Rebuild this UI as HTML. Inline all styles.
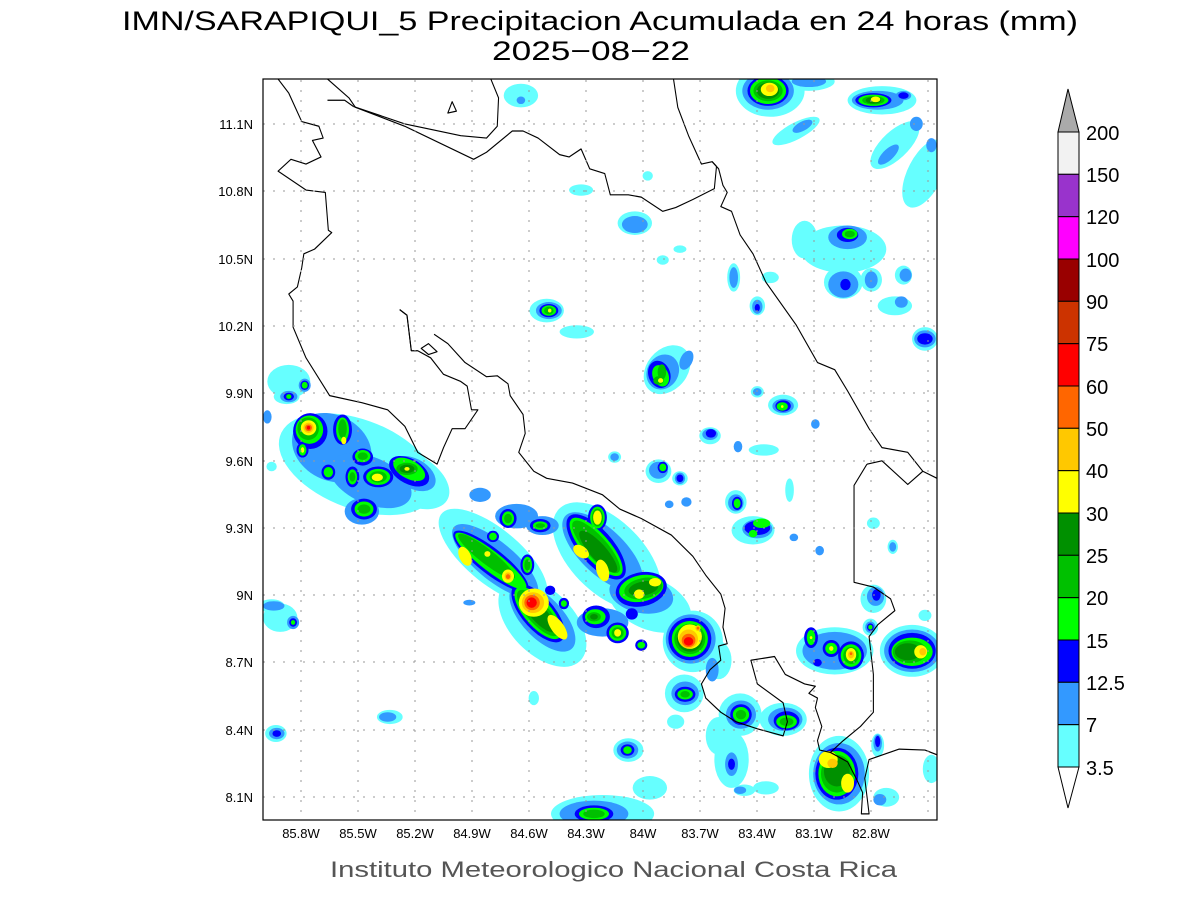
<!DOCTYPE html>
<html><head><meta charset="utf-8"><style>
body{margin:0;background:#fff;}
svg{display:block;font-family:"Liberation Sans",sans-serif;}
</style></head><body>
<svg width="1200" height="900" viewBox="0 0 1200 900" xmlns="http://www.w3.org/2000/svg">
<rect width="1200" height="900" fill="#fff"/>
<text x="122" y="30" font-size="27" textLength="956" lengthAdjust="spacingAndGlyphs" fill="#000">IMN/SARAPIQUI_5 Precipitacion Acumulada en 24 horas (mm)</text>
<text x="492" y="60" font-size="27" textLength="198" lengthAdjust="spacingAndGlyphs" fill="#000">2025−08−22</text>

<svg x="263" y="79" width="674" height="741" viewBox="0 0 1568 1568" preserveAspectRatio="none">
<defs><clipPath id="c"><rect width="1568" height="1568"/></clipPath></defs>
<g clip-path="url(#c)">
<g fill="#66ffff">
<ellipse cx="1180" cy="25" rx="80" ry="55"/><ellipse cx="1270" cy="5" rx="60" ry="20"/>
<ellipse cx="1440" cy="45" rx="80" ry="30"/>
<ellipse cx="1240" cy="110" rx="60" ry="18" transform="rotate(-25 1240 110)"/>
<ellipse cx="1470" cy="140" rx="70" ry="30" transform="rotate(-40 1470 140)"/>
<ellipse cx="1540" cy="200" rx="40" ry="80" transform="rotate(30 1540 200)"/>
<ellipse cx="600" cy="35" rx="40" ry="25"/>
<ellipse cx="740" cy="235" rx="28" ry="12"/><ellipse cx="895" cy="205" rx="12" ry="10"/>
<ellipse cx="865" cy="305" rx="40" ry="25"/>
<ellipse cx="1350" cy="360" rx="100" ry="50"/><ellipse cx="1260" cy="340" rx="30" ry="40"/>
<ellipse cx="1350" cy="430" rx="45" ry="35"/><ellipse cx="1415" cy="425" rx="25" ry="25"/>
<ellipse cx="1490" cy="415" rx="20" ry="20"/><ellipse cx="1470" cy="480" rx="40" ry="20"/>
<ellipse cx="1095" cy="420" rx="15" ry="30"/><ellipse cx="1180" cy="420" rx="20" ry="12"/>
<ellipse cx="1150" cy="480" rx="18" ry="20"/><ellipse cx="1540" cy="550" rx="30" ry="25"/>
<ellipse cx="660" cy="490" rx="40" ry="25"/><ellipse cx="730" cy="535" rx="40" ry="14"/>
<ellipse cx="930" cy="383" rx="14" ry="10"/><ellipse cx="970" cy="360" rx="15" ry="8"/>
<ellipse cx="940" cy="615" rx="60" ry="45" transform="rotate(-40 940 615)"/>
<ellipse cx="1150" cy="662" rx="15" ry="12"/><ellipse cx="1210" cy="690" rx="35" ry="22"/>
<ellipse cx="1040" cy="755" rx="25" ry="18"/><ellipse cx="1165" cy="785" rx="35" ry="12"/>
<ellipse cx="920" cy="830" rx="30" ry="25"/><ellipse cx="970" cy="845" rx="18" ry="15"/>
<ellipse cx="1100" cy="895" rx="25" ry="25"/><ellipse cx="1140" cy="955" rx="50" ry="30"/>
<ellipse cx="818" cy="800" rx="15" ry="12"/><ellipse cx="1225" cy="870" rx="10" ry="25"/>
<ellipse cx="60" cy="640" rx="50" ry="35"/><ellipse cx="55" cy="672" rx="30" ry="16"/>
<ellipse cx="220" cy="815" rx="190" ry="95" transform="rotate(18 220 815)"/>
<ellipse cx="340" cy="845" rx="100" ry="55" transform="rotate(25 340 845)"/>
<ellipse cx="535" cy="1010" rx="150" ry="60" transform="rotate(36 535 1010)"/>
<ellipse cx="650" cy="1150" rx="120" ry="70" transform="rotate(40 650 1150)"/>
<ellipse cx="800" cy="1010" rx="150" ry="80" transform="rotate(40 800 1010)"/>
<ellipse cx="900" cy="1110" rx="100" ry="55" transform="rotate(20 900 1110)"/>
<ellipse cx="1000" cy="1190" rx="70" ry="65"/>
<ellipse cx="1060" cy="1230" rx="30" ry="40"/>
<ellipse cx="980" cy="1300" rx="45" ry="40"/><ellipse cx="1110" cy="1345" rx="50" ry="45"/>
<ellipse cx="1090" cy="1440" rx="40" ry="60"/><ellipse cx="1060" cy="1390" rx="30" ry="40"/>
<ellipse cx="1210" cy="1355" rx="55" ry="35"/>
<ellipse cx="1330" cy="1210" rx="90" ry="50"/><ellipse cx="1510" cy="1210" rx="75" ry="55"/>
<ellipse cx="1340" cy="1470" rx="70" ry="80"/><ellipse cx="1430" cy="1410" rx="15" ry="25"/>
<ellipse cx="1450" cy="1520" rx="30" ry="20"/><ellipse cx="1555" cy="1460" rx="20" ry="30"/>
<ellipse cx="790" cy="1555" rx="120" ry="40"/><ellipse cx="900" cy="1500" rx="40" ry="25"/>
<ellipse cx="1170" cy="1500" rx="30" ry="14"/><ellipse cx="1120" cy="1505" rx="25" ry="12"/>
<ellipse cx="850" cy="1420" rx="35" ry="25"/><ellipse cx="960" cy="1360" rx="20" ry="15"/>
<ellipse cx="40" cy="1140" rx="40" ry="30"/><ellipse cx="20" cy="1115" rx="30" ry="14"/>
<ellipse cx="30" cy="1385" rx="25" ry="18"/><ellipse cx="295" cy="1350" rx="30" ry="15"/>
<ellipse cx="630" cy="1310" rx="12" ry="15"/><ellipse cx="20" cy="820" rx="12" ry="10"/>
<ellipse cx="1420" cy="940" rx="15" ry="12"/><ellipse cx="1465" cy="990" rx="12" ry="15"/>
<ellipse cx="1540" cy="1135" rx="15" ry="12"/><ellipse cx="1420" cy="1100" rx="30" ry="30"/>
<ellipse cx="1413" cy="1160" rx="18" ry="18"/>
</g>
<g fill="#3399ff">
<ellipse cx="1175" cy="25" rx="60" ry="40"/><ellipse cx="1270" cy="5" rx="40" ry="12"/>
<ellipse cx="1430" cy="45" rx="60" ry="20"/><ellipse cx="1490" cy="35" rx="18" ry="10"/>
<ellipse cx="1255" cy="100" rx="25" ry="10" transform="rotate(-25 1255 100)"/>
<ellipse cx="1455" cy="160" rx="30" ry="12" transform="rotate(-40 1455 160)"/>
<ellipse cx="1520" cy="95" rx="15" ry="15"/><ellipse cx="1555" cy="140" rx="12" ry="15"/>
<ellipse cx="865" cy="308" rx="30" ry="18"/><ellipse cx="600" cy="45" rx="10" ry="8"/>
<ellipse cx="1360" cy="335" rx="45" ry="25"/><ellipse cx="1350" cy="435" rx="35" ry="28"/>
<ellipse cx="1415" cy="425" rx="15" ry="18"/><ellipse cx="1495" cy="415" rx="14" ry="14"/>
<ellipse cx="1485" cy="472" rx="15" ry="12"/><ellipse cx="1095" cy="420" rx="10" ry="22"/>
<ellipse cx="1150" cy="482" rx="12" ry="15"/><ellipse cx="1540" cy="550" rx="25" ry="18"/>
<ellipse cx="665" cy="490" rx="30" ry="18"/><ellipse cx="930" cy="620" rx="40" ry="35" transform="rotate(-40 930 620)"/>
<ellipse cx="985" cy="595" rx="14" ry="22" transform="rotate(30 985 595)"/>
<ellipse cx="1150" cy="662" rx="10" ry="8"/><ellipse cx="1210" cy="692" rx="25" ry="15"/>
<ellipse cx="1040" cy="752" rx="18" ry="12"/><ellipse cx="920" cy="828" rx="22" ry="18"/>
<ellipse cx="970" cy="845" rx="12" ry="12"/><ellipse cx="1100" cy="897" rx="18" ry="18"/>
<ellipse cx="1150" cy="952" rx="35" ry="20"/><ellipse cx="818" cy="800" rx="10" ry="8"/>
<ellipse cx="1285" cy="730" rx="10" ry="10"/><ellipse cx="1105" cy="778" rx="10" ry="12"/>
<ellipse cx="985" cy="895" rx="12" ry="10"/><ellipse cx="945" cy="900" rx="10" ry="8"/>
<ellipse cx="60" cy="672" rx="20" ry="12"/><ellipse cx="97" cy="648" rx="14" ry="14"/>
<ellipse cx="10" cy="715" rx="10" ry="14"/>
<ellipse cx="160" cy="780" rx="95" ry="70" transform="rotate(20 160 780)"/>
<ellipse cx="250" cy="850" rx="100" ry="50" transform="rotate(20 250 850)"/>
<ellipse cx="350" cy="835" rx="55" ry="32" transform="rotate(25 350 835)"/>
<ellipse cx="230" cy="915" rx="40" ry="28"/>
<ellipse cx="505" cy="880" rx="25" ry="15"/>
<ellipse cx="540" cy="1020" rx="120" ry="42" transform="rotate(36 540 1020)"/>
<ellipse cx="650" cy="1140" rx="95" ry="45" transform="rotate(42 650 1140)"/>
<ellipse cx="590" cy="925" rx="50" ry="26"/><ellipse cx="650" cy="945" rx="38" ry="20"/>
<ellipse cx="790" cy="1000" rx="115" ry="50" transform="rotate(40 790 1000)"/>
<ellipse cx="880" cy="1090" rx="75" ry="40" transform="rotate(10 880 1090)"/>
<ellipse cx="790" cy="1150" rx="60" ry="30"/>
<ellipse cx="995" cy="1185" rx="58" ry="52"/><ellipse cx="1045" cy="1250" rx="15" ry="25"/>
<ellipse cx="982" cy="1300" rx="32" ry="25"/><ellipse cx="1112" cy="1345" rx="35" ry="30"/>
<ellipse cx="1090" cy="1450" rx="15" ry="25"/>
<ellipse cx="1215" cy="1355" rx="40" ry="25"/>
<ellipse cx="1330" cy="1210" rx="75" ry="40"/><ellipse cx="1510" cy="1210" rx="65" ry="45"/>
<ellipse cx="1340" cy="1470" rx="60" ry="65"/><ellipse cx="1430" cy="1405" rx="10" ry="18"/>
<ellipse cx="1435" cy="1525" rx="15" ry="12"/>
<ellipse cx="770" cy="1555" rx="80" ry="28"/><ellipse cx="848" cy="1420" rx="25" ry="18"/>
<ellipse cx="1110" cy="1505" rx="14" ry="8"/>
<ellipse cx="25" cy="1115" rx="25" ry="10"/><ellipse cx="70" cy="1150" rx="14" ry="14"/>
<ellipse cx="32" cy="1385" rx="18" ry="12"/><ellipse cx="290" cy="1350" rx="20" ry="10"/>
<ellipse cx="1425" cy="1095" rx="20" ry="20"/><ellipse cx="1413" cy="1160" rx="12" ry="12"/>
<ellipse cx="1465" cy="990" rx="8" ry="10"/><ellipse cx="1295" cy="998" rx="10" ry="10"/>
<ellipse cx="1235" cy="970" rx="10" ry="8"/><ellipse cx="480" cy="1108" rx="14" ry="6"/>
</g>
<g fill="#0000ff">
<ellipse cx="1175" cy="25" rx="48" ry="32"/><ellipse cx="1420" cy="45" rx="42" ry="15"/>
<ellipse cx="1490" cy="35" rx="12" ry="7"/><ellipse cx="1360" cy="330" rx="25" ry="15"/>
<ellipse cx="1355" cy="435" rx="12" ry="12"/><ellipse cx="1150" cy="484" rx="6" ry="8"/>
<ellipse cx="1540" cy="550" rx="18" ry="12"/><ellipse cx="665" cy="490" rx="22" ry="14"/>
<ellipse cx="922" cy="625" rx="25" ry="30" transform="rotate(-30 922 625)"/>
<ellipse cx="1210" cy="692" rx="18" ry="12"/><ellipse cx="1042" cy="750" rx="12" ry="9"/>
<ellipse cx="930" cy="822" rx="12" ry="12"/><ellipse cx="970" cy="845" rx="8" ry="8"/>
<ellipse cx="1103" cy="898" rx="12" ry="14"/><ellipse cx="1150" cy="950" rx="30" ry="15"/>
<ellipse cx="97" cy="648" rx="10" ry="10"/><ellipse cx="60" cy="672" rx="12" ry="8"/>
<ellipse cx="110" cy="745" rx="40" ry="38"/><ellipse cx="185" cy="742" rx="22" ry="32"/>
<ellipse cx="92" cy="785" rx="14" ry="16"/><ellipse cx="232" cy="800" rx="24" ry="18"/>
<ellipse cx="268" cy="842" rx="35" ry="22"/><ellipse cx="340" cy="830" rx="50" ry="27" transform="rotate(25 340 830)"/>
<ellipse cx="152" cy="832" rx="16" ry="16"/><ellipse cx="208" cy="842" rx="16" ry="22"/>
<ellipse cx="235" cy="910" rx="30" ry="22"/>
<ellipse cx="570" cy="930" rx="20" ry="20"/><ellipse cx="645" cy="945" rx="24" ry="14"/>
<ellipse cx="535" cy="968" rx="14" ry="12"/>
<ellipse cx="530" cy="1020" rx="105" ry="28" transform="rotate(35 530 1020)"/>
<ellipse cx="640" cy="1130" rx="80" ry="36" transform="rotate(45 640 1130)"/>
<ellipse cx="615" cy="1028" rx="16" ry="22"/><ellipse cx="668" cy="1082" rx="12" ry="10"/>
<ellipse cx="700" cy="1110" rx="12" ry="12"/>
<ellipse cx="775" cy="990" rx="90" ry="38" transform="rotate(45 775 990)"/>
<ellipse cx="778" cy="928" rx="22" ry="28"/>
<ellipse cx="880" cy="1080" rx="60" ry="36" transform="rotate(-10 880 1080)"/>
<ellipse cx="858" cy="1132" rx="14" ry="12"/>
<ellipse cx="775" cy="1138" rx="32" ry="24"/><ellipse cx="825" cy="1172" rx="26" ry="22"/>
<ellipse cx="880" cy="1198" rx="14" ry="12"/>
<ellipse cx="993" cy="1185" rx="50" ry="45"/>
<ellipse cx="982" cy="1302" rx="24" ry="16"/><ellipse cx="1112" cy="1345" rx="25" ry="22"/>
<ellipse cx="1090" cy="1450" rx="8" ry="12"/>
<ellipse cx="1218" cy="1358" rx="30" ry="20"/>
<ellipse cx="1275" cy="1182" rx="16" ry="22"/><ellipse cx="1322" cy="1205" rx="20" ry="18"/>
<ellipse cx="1368" cy="1220" rx="30" ry="30"/><ellipse cx="1290" cy="1235" rx="10" ry="8"/>
<ellipse cx="1510" cy="1210" rx="55" ry="38"/>
<ellipse cx="1335" cy="1470" rx="50" ry="55"/><ellipse cx="1430" cy="1402" rx="6" ry="12"/>
<ellipse cx="770" cy="1555" rx="45" ry="18"/><ellipse cx="848" cy="1420" rx="16" ry="12"/>
<ellipse cx="70" cy="1150" rx="9" ry="9"/><ellipse cx="32" cy="1385" rx="10" ry="7"/>
<ellipse cx="1427" cy="1092" rx="10" ry="12"/><ellipse cx="1413" cy="1160" rx="8" ry="8"/>
</g>
<g fill="#00ff00">
<ellipse cx="1175" cy="25" rx="42" ry="28"/><ellipse cx="1420" cy="45" rx="35" ry="12"/>
<ellipse cx="1365" cy="328" rx="18" ry="11"/><ellipse cx="665" cy="490" rx="17" ry="11"/>
<ellipse cx="925" cy="628" rx="18" ry="24" transform="rotate(-30 925 628)"/>
<ellipse cx="1208" cy="693" rx="13" ry="9"/><ellipse cx="930" cy="822" rx="8" ry="8"/>
<ellipse cx="1103" cy="898" rx="8" ry="10"/><ellipse cx="1160" cy="940" rx="20" ry="10"/>
<ellipse cx="1140" cy="962" rx="10" ry="8"/>
<ellipse cx="97" cy="648" rx="7" ry="7"/><ellipse cx="60" cy="672" rx="6" ry="5"/>
<ellipse cx="108" cy="742" rx="32" ry="30"/><ellipse cx="185" cy="742" rx="15" ry="26"/>
<ellipse cx="92" cy="785" rx="9" ry="12"/><ellipse cx="232" cy="798" rx="18" ry="13"/>
<ellipse cx="268" cy="842" rx="28" ry="17"/><ellipse cx="340" cy="826" rx="40" ry="20" transform="rotate(25 340 826)"/>
<ellipse cx="152" cy="832" rx="11" ry="11"/><ellipse cx="208" cy="842" rx="11" ry="16"/>
<ellipse cx="235" cy="910" rx="22" ry="16"/>
<ellipse cx="570" cy="930" rx="14" ry="15"/><ellipse cx="645" cy="945" rx="17" ry="9"/>
<ellipse cx="535" cy="968" rx="9" ry="8"/>
<ellipse cx="530" cy="1020" rx="100" ry="22" transform="rotate(35 530 1020)"/>
<ellipse cx="640" cy="1130" rx="72" ry="30" transform="rotate(45 640 1130)"/>
<ellipse cx="615" cy="1028" rx="11" ry="17"/><ellipse cx="700" cy="1110" rx="7" ry="7"/>
<ellipse cx="775" cy="990" rx="82" ry="30" transform="rotate(45 775 990)"/>
<ellipse cx="778" cy="928" rx="17" ry="23"/>
<ellipse cx="880" cy="1078" rx="52" ry="28" transform="rotate(-10 880 1078)"/>
<ellipse cx="773" cy="1138" rx="24" ry="16"/><ellipse cx="825" cy="1172" rx="20" ry="17"/>
<ellipse cx="880" cy="1198" rx="9" ry="7"/>
<ellipse cx="993" cy="1185" rx="42" ry="38"/>
<ellipse cx="982" cy="1302" rx="18" ry="11"/><ellipse cx="1112" cy="1345" rx="19" ry="16"/>
<ellipse cx="1218" cy="1360" rx="24" ry="14"/>
<ellipse cx="1275" cy="1182" rx="10" ry="16"/><ellipse cx="1322" cy="1205" rx="14" ry="12"/>
<ellipse cx="1368" cy="1220" rx="24" ry="24"/>
<ellipse cx="1510" cy="1212" rx="48" ry="30"/>
<ellipse cx="1335" cy="1470" rx="43" ry="48"/>
<ellipse cx="770" cy="1555" rx="35" ry="13"/><ellipse cx="848" cy="1420" rx="10" ry="8"/>
<ellipse cx="1413" cy="1160" rx="5" ry="5"/><ellipse cx="70" cy="1150" rx="5" ry="5"/>
</g>
<g fill="#00c000">
<ellipse cx="1175" cy="25" rx="34" ry="22"/><ellipse cx="1420" cy="45" rx="26" ry="9"/>
<ellipse cx="1365" cy="328" rx="12" ry="7"/><ellipse cx="665" cy="490" rx="11" ry="8"/>
<ellipse cx="928" cy="620" rx="10" ry="16"/><ellipse cx="920" cy="638" rx="12" ry="9"/>
<ellipse cx="105" cy="740" rx="25" ry="24"/><ellipse cx="185" cy="740" rx="10" ry="20"/>
<ellipse cx="232" cy="798" rx="12" ry="8"/><ellipse cx="268" cy="842" rx="20" ry="12"/>
<ellipse cx="335" cy="825" rx="25" ry="13"/><ellipse cx="208" cy="842" rx="7" ry="10"/>
<ellipse cx="235" cy="910" rx="15" ry="10"/><ellipse cx="570" cy="930" rx="9" ry="10"/>
<ellipse cx="645" cy="945" rx="11" ry="5"/>
<ellipse cx="520" cy="1010" rx="80" ry="16" transform="rotate(35 520 1010)"/>
<ellipse cx="640" cy="1130" rx="65" ry="24" transform="rotate(45 640 1130)"/>
<ellipse cx="615" cy="1028" rx="7" ry="12"/>
<ellipse cx="775" cy="990" rx="75" ry="24" transform="rotate(45 775 990)"/>
<ellipse cx="778" cy="928" rx="13" ry="19"/>
<ellipse cx="885" cy="1078" rx="45" ry="22" transform="rotate(-10 885 1078)"/>
<ellipse cx="770" cy="1138" rx="16" ry="10"/><ellipse cx="825" cy="1172" rx="14" ry="12"/>
<ellipse cx="993" cy="1185" rx="36" ry="32"/>
<ellipse cx="982" cy="1302" rx="11" ry="7"/><ellipse cx="1112" cy="1345" rx="12" ry="10"/>
<ellipse cx="1218" cy="1360" rx="16" ry="9"/>
<ellipse cx="1368" cy="1220" rx="18" ry="18"/><ellipse cx="1505" cy="1212" rx="40" ry="24"/>
<ellipse cx="1335" cy="1470" rx="37" ry="40"/><ellipse cx="770" cy="1555" rx="25" ry="9"/>
</g>
<g fill="#009000">
<ellipse cx="1175" cy="25" rx="26" ry="17"/><ellipse cx="1420" cy="45" rx="18" ry="7"/>
<ellipse cx="335" cy="825" rx="17" ry="9"/><ellipse cx="885" cy="1078" rx="35" ry="15" transform="rotate(-10 885 1078)"/>
<ellipse cx="770" cy="1138" rx="9" ry="6"/><ellipse cx="1500" cy="1212" rx="30" ry="18"/>
<ellipse cx="640" cy="1130" rx="55" ry="18" transform="rotate(45 640 1130)"/>
<ellipse cx="780" cy="1000" rx="60" ry="18" transform="rotate(45 780 1000)"/>
<ellipse cx="1335" cy="1465" rx="30" ry="32"/><ellipse cx="993" cy="1185" rx="30" ry="27"/>
</g>
<g fill="#ffff00">
<ellipse cx="1178" cy="22" rx="20" ry="14"/><ellipse cx="1425" cy="43" rx="11" ry="6"/>
<ellipse cx="106" cy="738" rx="18" ry="16"/><ellipse cx="188" cy="765" rx="6" ry="8"/>
<ellipse cx="92" cy="785" rx="4" ry="6"/><ellipse cx="266" cy="843" rx="13" ry="8"/>
<ellipse cx="335" cy="825" rx="6" ry="4"/><ellipse cx="925" cy="638" rx="6" ry="5"/>
<ellipse cx="667" cy="490" rx="4" ry="4"/><ellipse cx="1208" cy="693" rx="3" ry="3"/>
<ellipse cx="470" cy="1010" rx="13" ry="22" transform="rotate(-30 470 1010)"/>
<ellipse cx="522" cy="1005" rx="7" ry="6"/>
<ellipse cx="570" cy="1052" rx="14" ry="14"/>
<ellipse cx="630" cy="1108" rx="35" ry="30"/>
<ellipse cx="685" cy="1160" rx="32" ry="14" transform="rotate(50 685 1160)"/>
<ellipse cx="778" cy="928" rx="10" ry="15"/>
<ellipse cx="740" cy="1000" rx="20" ry="12" transform="rotate(30 740 1000)"/>
<ellipse cx="790" cy="1040" rx="14" ry="24" transform="rotate(-20 790 1040)"/>
<ellipse cx="875" cy="1090" rx="12" ry="10"/><ellipse cx="912" cy="1065" rx="14" ry="9"/>
<ellipse cx="825" cy="1172" rx="8" ry="8"/>
<ellipse cx="993" cy="1180" rx="28" ry="26"/>
<ellipse cx="1368" cy="1218" rx="12" ry="14"/><ellipse cx="1322" cy="1205" rx="5" ry="5"/>
<ellipse cx="1275" cy="1182" rx="3" ry="3"/><ellipse cx="1530" cy="1212" rx="15" ry="14"/>
<ellipse cx="1315" cy="1440" rx="22" ry="18"/><ellipse cx="1360" cy="1490" rx="15" ry="20"/>
</g>
<g fill="#ffc800">
<ellipse cx="1180" cy="20" rx="10" ry="8"/><ellipse cx="106" cy="738" rx="12" ry="11"/>
<ellipse cx="628" cy="1108" rx="26" ry="22"/><ellipse cx="990" cy="1185" rx="22" ry="20"/>
<ellipse cx="1368" cy="1218" rx="7" ry="8"/><ellipse cx="1535" cy="1212" rx="8" ry="8"/>
<ellipse cx="1325" cy="1448" rx="12" ry="10"/><ellipse cx="570" cy="1052" rx="8" ry="8"/>
<ellipse cx="1012" cy="1162" rx="6" ry="6"/>
</g>
<g fill="#ff6600">
<ellipse cx="106" cy="738" rx="8" ry="7"/><ellipse cx="626" cy="1108" rx="18" ry="16"/>
<ellipse cx="990" cy="1188" rx="16" ry="14"/><ellipse cx="570" cy="1053" rx="5" ry="5"/>
<ellipse cx="1368" cy="1216" rx="3" ry="3"/><ellipse cx="1012" cy="1162" rx="3" ry="3"/>
</g>
<g fill="#ff0000">
<ellipse cx="106" cy="738" rx="4" ry="4"/><ellipse cx="625" cy="1108" rx="12" ry="11"/>
<ellipse cx="990" cy="1190" rx="11" ry="9"/>
</g>
<g fill="none" stroke="#000" stroke-width="2.5" stroke-linejoin="round">
<polyline points="150,0 200,40 215,60 330,100 490,170 520,155 580,110 605,110 640,125 690,160 712,165 740,148 760,190 795,200 808,245 850,245 880,250 930,280 960,272 1000,255 1050,232 1055,185 1045,175 1020,180 990,120 965,60 955,0"/>
<polyline points="1045,175 1060,190 1070,225 1080,240 1065,270 1090,280 1110,330 1140,370 1170,430 1240,520 1290,600 1330,615 1360,660 1410,740 1440,780 1500,790 1535,830 1568,845"/>
<polyline points="210,58 330,95 460,120 520,125 545,100 548,40 530,0"/>
<polyline points="35,0 60,30 90,90 130,100 140,125 115,130 135,165 100,180 65,170 35,195 100,235 145,240 152,320 160,325 120,360 95,370 90,400 80,440 60,455 70,470 70,525 100,590 155,670 230,685 290,700 330,735 360,790 405,815 420,780 440,740 470,740 500,700 485,700 475,650 460,640 420,625 390,590 360,575 345,575 335,500 318,488"/>
<polyline points="150,45 190,45 210,58"/>
<polyline points="318,488 335,500 345,575"/>
<polyline points="398,540 430,560 470,600 520,630 545,628 570,645 575,670 605,710 610,750 595,790 630,830 660,845 720,855 790,880 830,910 880,930 950,965 1000,1010 1030,1050 1065,1090 1075,1120 1070,1160 1080,1195 1060,1200 1065,1230 1040,1250 1020,1280 1030,1310 1065,1340 1100,1360 1150,1375 1210,1390 1220,1360 1210,1320 1150,1280 1135,1230 1190,1222 1215,1260 1260,1280 1285,1285 1270,1300 1290,1310 1285,1330 1300,1370 1290,1400 1295,1420 1320,1425 1360,1445 1380,1480 1395,1510 1392,1555 1410,1555 1400,1480 1410,1440 1480,1418 1540,1420 1568,1430"/>
<polyline points="1405,815 1440,808 1500,858 1535,830"/>
<polyline points="1405,815 1375,860 1375,1065 1420,1075 1460,1100 1470,1125 1430,1155 1410,1180 1420,1260 1420,1340 1390,1370 1350,1400 1320,1425"/>
<polygon points="368,570 385,560 405,577 385,583"/>
<polygon points="430,72 440,48 450,68"/>
</g>
</g>
</svg>

<g stroke="#999" stroke-width="1" stroke-dasharray="2,8">
<line x1="301" y1="80" x2="301" y2="820"/><line x1="358" y1="80" x2="358" y2="820"/><line x1="415" y1="80" x2="415" y2="820"/><line x1="472" y1="80" x2="472" y2="820"/><line x1="529" y1="80" x2="529" y2="820"/><line x1="586" y1="80" x2="586" y2="820"/><line x1="643" y1="80" x2="643" y2="820"/><line x1="700" y1="80" x2="700" y2="820"/><line x1="757" y1="80" x2="757" y2="820"/><line x1="814" y1="80" x2="814" y2="820"/><line x1="871" y1="80" x2="871" y2="820"/><line x1="928" y1="80" x2="928" y2="820"/>
<line x1="263" y1="124" x2="937" y2="124"/><line x1="263" y1="191" x2="937" y2="191"/><line x1="263" y1="259" x2="937" y2="259"/><line x1="263" y1="326" x2="937" y2="326"/><line x1="263" y1="393" x2="937" y2="393"/><line x1="263" y1="461" x2="937" y2="461"/><line x1="263" y1="528" x2="937" y2="528"/><line x1="263" y1="595" x2="937" y2="595"/><line x1="263" y1="662" x2="937" y2="662"/><line x1="263" y1="730" x2="937" y2="730"/><line x1="263" y1="797" x2="937" y2="797"/>
</g>
<rect x="263" y="79" width="674" height="741" fill="none" stroke="#000" stroke-width="1.2"/>
<g font-size="13" fill="#000" text-anchor="middle">
<text x="301" y="838">85.8W</text><text x="358" y="838">85.5W</text><text x="415" y="838">85.2W</text><text x="472" y="838">84.9W</text><text x="529" y="838">84.6W</text><text x="586" y="838">84.3W</text><text x="643" y="838">84W</text><text x="700" y="838">83.7W</text><text x="757" y="838">83.4W</text><text x="814" y="838">83.1W</text><text x="871" y="838">82.8W</text>
</g>
<g font-size="13" fill="#000" text-anchor="end">
<text x="253" y="129">11.1N</text><text x="253" y="196">10.8N</text><text x="253" y="264">10.5N</text><text x="253" y="331">10.2N</text><text x="253" y="398">9.9N</text><text x="253" y="466">9.6N</text><text x="253" y="533">9.3N</text><text x="253" y="600">9N</text><text x="253" y="667">8.7N</text><text x="253" y="735">8.4N</text><text x="253" y="802">8.1N</text>
</g>
<text x="330" y="877" font-size="22" textLength="567" lengthAdjust="spacingAndGlyphs" fill="#555">Instituto Meteorologico Nacional Costa Rica</text>

<g stroke="#000" stroke-width="1">
<polygon points="1058,132 1068,89 1079,132" fill="#aaaaaa"/>
<rect x="1058" y="132" width="21" height="42.3" fill="#f2f2f2"/>
<rect x="1058" y="174.3" width="21" height="42.3" fill="#9933cc"/>
<rect x="1058" y="216.7" width="21" height="42.3" fill="#ff00ff"/>
<rect x="1058" y="259" width="21" height="42.3" fill="#990000"/>
<rect x="1058" y="301.3" width="21" height="42.3" fill="#cc3300"/>
<rect x="1058" y="343.7" width="21" height="42.3" fill="#ff0000"/>
<rect x="1058" y="386" width="21" height="42.3" fill="#ff6600"/>
<rect x="1058" y="428.3" width="21" height="42.3" fill="#ffc800"/>
<rect x="1058" y="470.7" width="21" height="42.3" fill="#ffff00"/>
<rect x="1058" y="513" width="21" height="42.3" fill="#009000"/>
<rect x="1058" y="555.3" width="21" height="42.3" fill="#00c000"/>
<rect x="1058" y="597.7" width="21" height="42.3" fill="#00ff00"/>
<rect x="1058" y="640" width="21" height="42.3" fill="#0000ff"/>
<rect x="1058" y="682.3" width="21" height="42.3" fill="#3399ff"/>
<rect x="1058" y="724.7" width="21" height="42.3" fill="#66ffff"/>
<polygon points="1058,767 1068,808 1079,767" fill="#fff"/>
</g>
<g font-size="20" fill="#000">
<text x="1086" y="140">200</text><text x="1086" y="182">150</text><text x="1086" y="224">120</text><text x="1086" y="267">100</text><text x="1086" y="309">90</text><text x="1086" y="351">75</text><text x="1086" y="394">60</text><text x="1086" y="436">50</text><text x="1086" y="478">40</text><text x="1086" y="521">30</text><text x="1086" y="563">25</text><text x="1086" y="605">20</text><text x="1086" y="648">15</text><text x="1086" y="690">12.5</text><text x="1086" y="732">7</text><text x="1086" y="775">3.5</text>
</g>
</svg>
</body></html>
